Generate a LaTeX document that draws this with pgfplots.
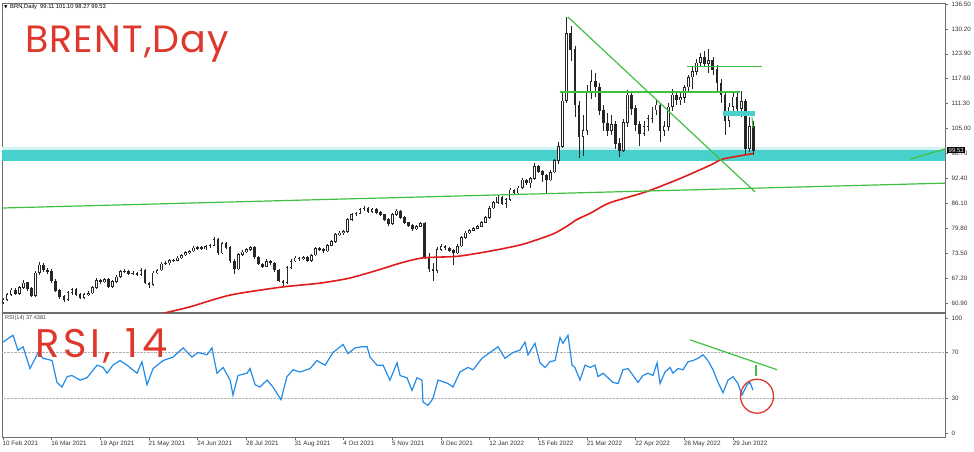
\documentclass[border=0pt]{standalone}
\usepackage{fontspec}
\setmainfont{Liberation Sans}
\newfontfamily\handfont{Poppins}
\newfontfamily\symfont{DejaVu Sans}
\usepackage{pgfplots}
\usepackage{pgfplotstable}
\pgfplotsset{compat=1.18}

\definecolor{band}{RGB}{72,209,204}
\definecolor{ma}{RGB}{222,28,28}
\definecolor{trend}{RGB}{64,192,64}
\definecolor{rsiblue}{RGB}{35,138,230}
\definecolor{note}{RGB}{222,56,44}
\definecolor{frame}{RGB}{110,110,110}

% daily candles, every second session: index, open, high, low, close
\pgfplotstableread{
i o h l c
0 61.0 62.1 60.7 61.7
2 61.7 63.4 61.4 63.0
4 63.0 64.6 62.6 64.2
6 64.2 64.8 62.9 63.3
8 63.3 65.2 63.0 64.8
10 64.8 66.6 64.4 66.0
12 66.0 66.3 64.0 64.5
14 64.5 64.9 62.4 62.8
16 62.8 69.0 62.5 68.5
18 68.5 71.2 68.0 70.5
20 70.5 71.0 68.8 69.2
22 69.2 69.8 68.2 69.0
24 69.0 69.4 66.0 66.5
26 66.5 67.0 63.6 64.0
28 64.0 64.5 61.9 62.5
30 62.5 63.0 61.2 61.8
32 61.8 64.0 61.5 63.5
34 63.5 64.8 63.0 64.3
36 64.3 64.6 62.6 63.0
38 63.0 63.4 61.8 62.2
40 62.2 63.5 61.9 63.0
42 63.0 63.9 62.7 63.4
44 63.4 65.2 63.1 64.8
46 64.8 67.1 64.5 66.7
48 66.7 67.0 65.8 66.2
50 66.2 67.3 65.9 66.9
52 66.9 67.2 64.6 65.0
54 65.0 66.7 64.7 66.3
56 66.3 67.9 66.0 67.5
58 67.5 69.2 67.2 68.8
60 68.8 69.5 68.4 69.0
62 69.0 69.3 67.9 68.3
64 68.3 69.0 67.9 68.5
66 68.5 68.8 67.6 68.0
68 68.0 69.7 67.8 69.2
70 69.2 69.5 65.6 66.0
72 66.0 66.3 64.8 65.5
74 65.5 68.9 65.2 68.5
76 68.5 69.6 68.2 69.2
78 69.2 71.2 68.9 70.8
80 70.8 71.5 70.4 71.0
82 71.0 72.0 70.6 71.6
84 71.6 72.1 71.2 71.7
86 71.7 72.7 71.4 72.3
88 72.3 73.4 72.0 73.0
90 73.0 74.0 72.7 73.6
92 73.6 74.4 73.2 74.0
94 74.0 75.2 73.7 74.8
96 74.8 75.4 74.4 75.0
98 75.0 75.3 74.2 74.6
100 74.6 75.6 74.3 75.2
102 75.2 75.9 74.9 75.5
104 75.5 77.6 75.2 77.0
106 77.0 77.3 73.1 73.5
108 73.5 76.4 73.2 76.0
110 76.0 76.3 74.6 75.0
112 75.0 75.3 71.1 71.5
114 71.5 71.9 68.3 69.5
116 69.5 73.6 69.2 73.2
118 73.2 74.2 72.9 73.8
120 73.8 74.8 73.5 74.4
122 74.4 75.4 74.1 75.0
124 75.0 75.3 72.1 72.5
126 72.5 72.8 70.4 70.8
128 70.8 71.1 69.8 70.2
130 70.2 71.9 69.9 71.5
132 71.5 71.8 70.6 71.0
134 71.0 71.3 68.8 69.2
136 69.2 69.5 66.1 66.5
138 66.5 66.8 65.2 66.0
140 66.0 70.2 65.7 69.8
142 69.8 71.9 69.5 71.5
144 71.5 72.7 71.2 72.3
146 72.3 72.6 71.6 72.0
148 72.0 72.8 71.7 72.4
150 72.4 72.7 71.2 71.6
152 71.6 73.4 71.3 73.0
154 73.0 75.0 72.7 74.6
156 74.6 75.0 74.1 74.5
158 74.5 74.8 73.6 74.0
160 74.0 75.9 73.7 75.5
162 75.5 76.8 75.2 76.4
164 76.4 78.6 76.1 78.2
166 78.2 79.0 77.8 78.6
168 78.6 79.4 78.2 79.0
170 79.0 82.4 78.7 82.0
172 82.0 83.6 81.6 83.2
174 83.2 84.0 82.8 83.6
176 83.6 84.9 83.3 84.5
178 84.5 85.5 84.1 84.8
180 84.8 85.1 83.6 84.0
182 84.0 85.0 83.7 84.6
184 84.6 84.9 83.4 83.8
186 83.8 84.1 82.8 83.2
188 83.2 83.5 81.6 82.0
190 82.0 82.3 80.3 80.9
192 80.9 83.7 80.6 83.3
194 83.3 84.7 83.0 84.2
196 84.2 84.5 82.1 82.5
198 82.5 82.8 80.8 81.2
200 81.2 81.5 80.1 80.5
202 80.5 80.8 79.0 79.6
204 79.6 80.7 79.3 80.3
206 80.3 81.5 80.0 81.0
208 81.0 81.3 72.0 72.5
210 72.5 73.5 68.8 69.5
212 69.5 71.0 66.5 69.0
214 69.0 75.0 68.6 74.5
216 74.5 75.8 74.1 75.3
218 75.3 75.6 74.4 74.8
220 74.8 75.1 73.8 74.2
222 74.2 74.5 70.5 73.5
224 73.5 75.7 73.2 75.3
226 75.3 77.9 75.0 77.5
228 77.5 79.0 77.2 78.6
230 78.6 79.7 78.3 79.3
232 79.3 80.2 79.0 79.8
234 79.8 80.7 79.5 80.3
236 80.3 81.7 80.0 81.3
238 81.3 82.9 81.0 82.5
240 82.5 85.3 82.2 84.9
242 84.9 86.7 84.6 86.3
244 86.3 88.1 86.0 87.7
246 87.7 88.0 85.6 86.0
248 86.0 87.4 85.0 87.0
250 87.0 89.9 86.7 89.5
252 89.5 89.8 88.2 88.7
254 88.7 90.4 88.4 90.0
256 90.0 92.4 89.7 92.0
258 92.0 92.3 90.8 91.2
260 91.2 92.7 90.0 92.3
262 92.3 96.2 92.0 95.5
264 95.5 95.8 93.8 94.2
266 94.2 94.5 91.5 93.3
268 93.3 93.6 88.8 92.0
270 92.0 94.4 91.7 94.0
272 94.0 97.4 93.7 97.0
274 97.0 101.5 96.0 100.5
276 100.5 114.0 100.0 112.0
278 112.0 133.2 111.5 129.0
280 129.0 131.0 122.0 125.0
282 125.0 126.0 108.0 111.0
284 111.0 112.0 97.5 103.0
286 103.0 108.5 98.0 104.5
288 104.5 116.0 103.5 114.0
290 114.0 119.8 112.5 117.0
292 117.0 119.0 113.0 115.5
294 115.5 116.5 108.5 109.5
296 109.5 111.0 104.5 106.4
298 106.4 109.0 103.0 104.5
300 104.5 108.5 103.5 106.0
302 106.0 107.0 99.8 101.3
304 101.3 102.5 97.8 99.5
306 99.5 107.5 99.0 106.5
308 106.5 114.8 105.5 113.5
310 113.5 114.5 108.5 110.0
312 110.0 111.0 104.5 106.0
314 106.0 107.0 100.5 103.8
316 103.8 106.8 103.0 105.5
318 105.5 108.5 104.5 107.5
320 107.5 110.5 106.5 109.7
322 109.7 112.5 108.5 111.0
324 111.0 111.5 101.5 104.5
326 104.5 107.0 103.0 105.5
328 105.5 111.5 104.5 110.5
330 110.5 115.0 109.5 113.5
332 113.5 114.5 111.0 112.2
334 112.2 114.0 111.0 112.8
336 112.8 116.0 111.5 115.5
338 115.5 118.5 114.5 118.0
340 118.0 120.5 115.0 119.5
342 119.5 122.5 118.5 121.6
344 121.6 124.0 120.5 123.0
346 123.0 124.6 120.5 121.5
348 121.5 125.2 119.0 122.3
350 122.3 123.0 118.5 120.0
352 120.0 121.0 114.5 116.5
354 116.5 117.5 111.5 113.5
356 113.5 114.5 103.5 107.0
358 107.0 111.5 105.5 110.5
360 110.5 114.5 109.5 113.0
362 113.0 114.0 108.5 110.0
364 110.0 114.5 108.0 111.8
366 111.8 112.5 98.5 100.0
368 100.0 108.0 99.0 105.5
370 105.5 107.0 98.3 99.5
}\brent

% red moving average
\pgfplotstableread{
i m
75 57.6
80 58.4
92 59.9
112 62.9
137 64.9
156 65.9
171 67.2
186 69.4
196 71.0
207 72.3
224 72.7
240 74.0
256 75.7
271 78.3
278 80.3
283 82.0
290 83.7
299 86.2
317 89.0
334 92.4
349 95.8
355 97.3
370 98.7
}\mavg

% RSI(14)
\pgfplotstableread{
i r
0 79
4.9 85
7.4 72
9.9 75
13.3 56
17.3 70
19.7 65
24.2 63
26.6 44
29.1 40
31.6 49
34 50
38 46
41.4 48
46.4 59
49.3 57
51.3 52
54.2 59
57.7 63
61.1 59
66.1 52
68.5 62
71 42
74 56
78.9 63
83.8 66
88.8 74
93.2 66
96.2 70
100.6 68
103 74
105.5 52
108.5 57
112 46
113.4 33
115.9 50
120.3 52
121.8 56
124.3 42
126.7 40
130.2 46
133.1 40
137.1 29
140 49
143 55
146.4 53
151.4 56
154.8 63
158.8 59
162.7 70
167.7 77
170.1 69
173.6 74
177 75
179.5 75
181 66
184.4 59
187.4 59
190.8 46
194.3 61
195.8 50
199.2 48
201.7 37
204.1 48
206.6 46
207.1 27
209.6 24
212 30
214.5 46
218 44
219.4 43
221.9 40
225.3 53
229.3 57
231.8 55
236.2 65
240.1 70
244.1 75
247.5 65
251.5 70
254.9 72
257.4 79
258.9 68
262.3 78
264.8 61
267.3 57
269.7 62
272.2 63
274.7 83
276.1 78
278.6 85
280.6 59
282 57
284.5 46
287 59
289.5 57
291.9 59
293.4 49
295.9 52
298.3 48
300.8 44
303.3 43
305.7 55
308.2 56
310.7 50
313.1 44
315.6 50
318 52
320.5 50
322.5 61
324 43
326.4 53
328.9 57
330.4 52
332.8 56
335.3 55
337.8 62
340.2 63
342.7 65
345.2 68
347.6 63
350.1 55
352.6 44
355 35
357.5 46
360 49
362.4 43
364.4 33
366.9 42
368.3 44
369.8 37.4
}\rsi

\begin{document}
\begin{tikzpicture}
\useasboundingbox (0,0) rectangle (974pt,451pt);
\pgfplotsset{every axis/.append style={
  scale only axis, width=943pt, xmin=-0.5, xmax=464.5,
  axis line style={draw=frame, line width=0.8pt},
  tick style={draw=frame, line width=0.5pt},
  tick align=outside, major tick length=3pt,
  ytick pos=right, yticklabel pos=right,
  ticklabel style={font=\fontsize{6.3}{7}\selectfont, text=black!80},
  unbounded coords=discard}}

% ---------- price panel ----------
\begin{axis}[at={(2pt,139pt)}, anchor=south west, height=309pt,
  ymin=58.62, ymax=136.75, xtick=\empty,
  ytick={60.9,67.2,73.5,79.8,86.1,92.4,98.7,105,111.3,117.6,123.9,130.2,136.5},
  yticklabels={60.90,67.20,73.50,79.80,86.10,92.40,98.70,105.00,111.30,117.60,123.90,130.20,136.50}]

% support zone
\fill[band!25] (axis cs:-1,99.6) rectangle (axis cs:466,100.3);
\fill[band] (axis cs:-1,96.8) rectangle (axis cs:466,99.6);

% wicks
\addplot[forget plot, draw=none, mark=none,
  error bars/.cd, y dir=both, y explicit, error mark=none,
  error bar style={draw=black!85, line width=0.6pt}]
  table[x=i, y expr={(\thisrow{h}+\thisrow{l})/2},
        y error expr={(\thisrow{h}-\thisrow{l})/2}] {\brent};
% bodies (outline)
\addplot[forget plot, draw=none, mark=none,
  error bars/.cd, y dir=both, y explicit, error mark=none,
  error bar style={draw=black!85, line width=2.7pt}]
  table[x=i, y expr={(\thisrow{o}+\thisrow{c})/2},
        y error expr={abs(\thisrow{c}-\thisrow{o})/2+0.08}] {\brent};
% hollow centre of bullish bodies
\addplot[forget plot, draw=none, mark=none,
  restrict expr to domain={\thisrow{c}-\thisrow{o}}{0.3:100},
  error bars/.cd, y dir=both, y explicit, error mark=none,
  error bar style={draw=white, line width=1.0pt}]
  table[x=i, y expr={(\thisrow{o}+\thisrow{c})/2},
        y error expr={abs(\thisrow{c}-\thisrow{o})/2-0.12}] {\brent};

% moving average
\addplot[ma, line width=1.6pt, smooth, tension=0.4] table[x=i, y=m] {\mavg};

% trend lines and levels
\draw[trend, line width=1.2pt] (axis cs:-1.5,84.9) -- (axis cs:464.5,91.2);
\draw[trend, line width=1.2pt] (axis cs:278.6,133.2) -- (axis cs:370.8,89.0);
\draw[trend, line width=1.2pt] (axis cs:274.6,114.25) -- (axis cs:363.4,114.25);
\draw[trend, line width=1.2pt] (axis cs:337.3,120.7) -- (axis cs:374.3,120.7);
\draw[trend, line width=1.2pt] (axis cs:447.5,97.3) -- (axis cs:465,99.9);
\draw[trend, line width=1pt] (axis cs:369.3,108.0) -- (axis cs:369.8,105.2);
\fill[band] (axis cs:355,108.2) rectangle (axis cs:370.8,109.5);

\coordinate (lastprice) at ({rel axis cs:1,0}|-{axis cs:0,99.53});
\end{axis}

% ---------- RSI panel ----------
\begin{axis}[at={(2pt,14pt)}, anchor=south west, height=124pt,
  ymin=-3.48, ymax=104.35,
  ytick={0,30,70,100}, yticklabels={0,30,70,100},
  xtick={0,24,...,360}, xtick pos=bottom,
  xticklabels={10 Feb 2021,16 Mar 2021,19 Apr 2021,21 May 2021,24 Jun 2021,28 Jul 2021,31 Aug 2021,4 Oct 2021,5 Nov 2021,9 Dec 2021,12 Jan 2022,15 Feb 2022,21 Mar 2022,22 Apr 2022,26 May 2022,29 Jun 2022},
  xticklabel style={anchor=north west, xshift=-1.5pt, inner sep=1pt}]
\draw[gray!60, densely dotted] (axis cs:-1,70) -- (axis cs:466,70);
\draw[gray!60, densely dotted] (axis cs:-1,30) -- (axis cs:466,30);
\addplot[rsiblue, line width=1.2pt] table[x=i, y=r] {\rsi};
\draw[trend, line width=1.2pt] (axis cs:338.8,81) -- (axis cs:381.7,55);
\draw[trend, line width=1.2pt] (axis cs:371.3,59) -- (axis cs:371.3,50);
\draw[note, line width=1.3pt] (axis cs:371.8,32) ellipse [x radius=16.5pt, y radius=17pt];
\end{axis}

% last price tag (covers most of the 98.70 label, as in the terminal)
\node[fill=black, text=white, anchor=west, inner xsep=1.5pt, inner ysep=1pt,
      font=\fontsize{6}{7}\selectfont, xshift=2pt] at (lastprice) {99.53};

% headers
\node[anchor=west, inner sep=0pt, font=\fontsize{5.8}{7}\selectfont]
  at (4pt,444pt) {{\symfont\fontsize{4.5}{5}\selectfont ▼}\, BRN,Daily\ \ 99.11 101.10 98.27 99.53};
\node[anchor=west, inner sep=0pt, font=\fontsize{5.6}{7}\selectfont, text=black!75]
  at (5pt,133pt) {RSI(14) 37.4381};

% hand-written labels
\node[anchor=base west, inner sep=0pt, text=note,
      font=\handfont\addfontfeatures{LetterSpace=3}\fontsize{38}{40}\selectfont]
  at (25pt,399pt) {BRENT,Day};
\node[anchor=base west, inner sep=0pt, text=note,
      font=\handfont\addfontfeatures{LetterSpace=9}\fontsize{40}{42}\selectfont]
  at (35pt,94pt) {RSI, 14};
\end{tikzpicture}
\end{document}
